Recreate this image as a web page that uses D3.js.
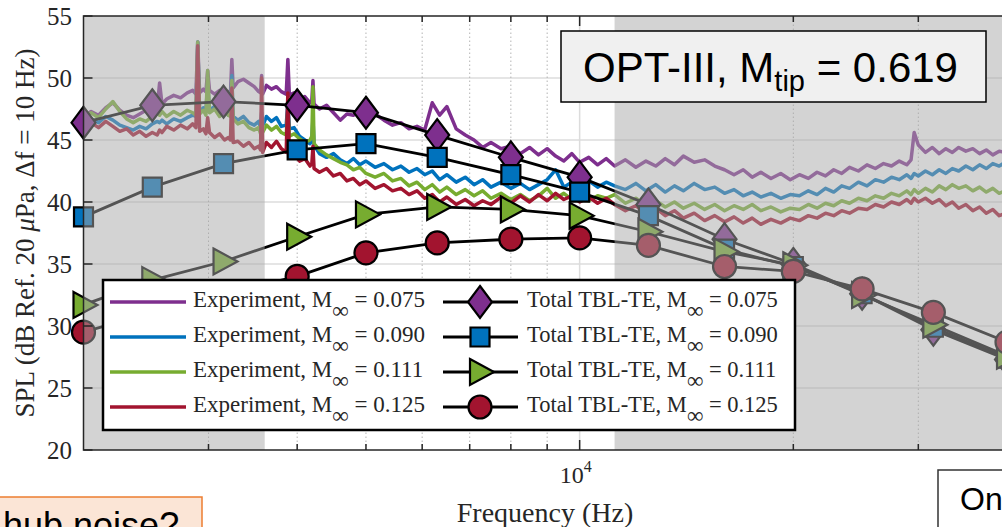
<!DOCTYPE html>
<html>
<head>
<meta charset="utf-8">
<title>OPT-III SPL</title>
<script src="https://cdn.jsdelivr.net/npm/d3@7"></script>
<style>
  body { margin: 0; background: #fff; }
  svg { display: block; }
</style>
</head>
<body>
<svg id="chart" width="1002" height="527"></svg>
<script>
// experiment spectra (Hz, dB)
const freqs = [2000,2050,2100,2150,2200,2250,2300,2350,2400,2450,
  2500,2540,2560,2580,2620,2680,2740,2800,2850,2880,
  2897,2915,2950,2975,2992,3010,3060,3110,3160,3200,
  3222,3236,3250,3300,3360,3420,3480,3530,3552,3564,
  3576,3620,3680,3740,3800,3860,3881,3900,3960,4030,
  4100,4170,4195,4210,4225,4300,4400,4500,4600,4700,
  4800,4900,5000,5150,5300,5450,5600,5750,5900,6050,
  6200,6350,6500,6700,6900,7100,7300,7500,7750,8000,
  8250,8500,8750,9000,9250,9500,9750,10000,10300,10600,
  10900,11200,11600,12000,12400,12800,13200,13600,14000,14500,
  15000,15500,16000,16500,17000,17500,18000,18600,19200,19800,
  20400,21000,21600,22200,22800,23400,24000,24700,25400,26100,
  26800,27500,28200,28900,29300,29600,30000,30700,31400,32100,
  32800,33500,34200,35000,35800,36600,37400,38200,39000,39800];

const expM075 = [46.8,47.3,47.0,47.6,48.0,47.4,47.0,46.8,47.1,47.4,
  47.8,47.6,49.6,47.9,48.3,48.6,48.4,48.8,49.0,48.7,
  52.9,48.8,49.1,48.9,50.6,49.0,48.7,49.0,48.6,48.9,
  48.8,51.5,49.2,49.7,49.9,49.6,49.3,48.9,48.8,50.2,
  48.7,49.4,49.1,49.3,48.9,48.7,51.5,48.6,48.8,48.3,
  48.5,48.0,48.2,49.8,47.9,47.5,47.8,47.2,46.6,47.1,
  47.0,47.3,47.6,47.1,46.6,46.2,46.4,45.9,46.1,45.8,
  48.0,47.0,47.7,45.9,45.4,45.0,44.4,44.8,44.3,44.5,
  43.9,44.4,43.8,44.3,43.7,43.3,43.9,43.2,43.6,43.0,
  43.5,42.9,43.4,42.8,43.3,42.9,43.5,43.0,43.7,43.2,
  43.4,42.9,42.6,42.2,42.6,42.0,42.4,41.9,42.3,41.8,
  42.2,41.9,42.4,42.1,42.6,42.3,42.8,42.5,43.0,42.7,
  43.1,42.9,43.3,43.0,43.4,45.6,44.6,44.0,44.4,43.9,
  44.3,44.0,44.4,44.1,44.3,43.9,44.2,43.8,44.1,44.0];

const expM090 = [46.3,46.7,46.4,46.9,46.6,46.2,46.0,45.8,46.1,45.9,
  46.3,46.5,46.4,46.6,46.3,46.7,46.5,46.8,47.0,46.9,
  52.9,47.2,47.6,47.3,49.6,47.4,47.7,47.2,47.5,47.0,
  47.2,50.2,46.9,46.6,46.9,46.4,46.2,46.5,46.0,47.2,
  46.1,46.9,46.5,46.8,46.1,46.2,48.0,45.9,46.0,45.3,
  45.0,44.7,45.0,46.8,44.6,43.9,43.6,43.9,43.4,43.1,
  43.5,43.0,43.3,42.8,43.1,42.6,42.9,42.4,42.7,42.2,
  42.5,41.8,42.2,41.6,42.0,41.4,41.8,41.2,41.6,41.1,
  41.5,41.0,41.4,41.8,42.6,41.2,41.6,41.3,41.7,41.2,
  41.6,41.3,41.0,41.5,40.9,41.4,40.8,41.3,40.9,41.5,
  41.0,41.2,40.7,41.0,40.5,40.8,40.4,40.7,40.3,40.6,
  40.5,40.9,40.6,41.1,40.8,41.3,41.1,41.6,41.3,41.8,
  41.6,42.0,41.8,42.2,41.9,42.3,42.1,42.5,42.2,42.6,
  42.3,42.7,42.5,42.9,42.6,43.0,42.7,43.1,42.9,43.2];

const expM111 = [46.9,47.2,46.8,47.5,48.1,47.3,46.7,46.4,46.7,46.5,
  46.9,47.2,47.0,47.3,46.9,47.3,47.0,47.4,47.2,47.0,
  52.9,47.1,47.4,47.0,50.6,47.2,47.5,46.9,47.3,47.0,
  46.9,49.8,46.7,46.3,46.5,46.0,45.8,46.0,45.5,46.6,
  45.6,46.2,45.8,46.1,45.6,45.4,47.5,45.3,45.5,45.1,
  44.8,45.0,45.3,49.3,44.7,44.2,43.8,43.5,43.2,43.0,
  42.6,42.8,42.3,42.0,42.3,41.7,41.9,41.3,41.6,41.0,
  41.4,40.8,41.2,40.6,41.0,40.5,40.9,40.3,40.7,40.2,
  40.6,40.1,40.5,41.1,40.3,40.7,40.2,40.6,40.1,40.5,
  40.3,40.6,39.9,40.3,39.7,40.1,39.6,40.0,39.5,39.9,
  39.4,39.8,39.3,39.7,39.4,39.8,39.3,39.6,39.2,39.5,
  39.4,39.8,39.5,39.9,39.7,40.1,39.9,40.3,40.1,40.5,
  40.3,40.7,40.5,40.9,40.6,41.0,40.7,41.1,40.8,41.3,
  41.0,41.4,41.1,41.3,40.9,41.2,40.8,41.1,40.7,40.9];

const expM125 = [46.0,46.4,46.0,46.5,46.1,45.7,45.9,45.4,45.7,45.3,
  45.6,45.4,45.8,45.6,46.1,45.8,46.2,45.9,46.3,46.0,
  52.6,45.7,45.9,45.5,46.8,45.6,45.2,45.5,45.0,45.2,
  45.0,49.2,44.8,44.9,44.5,44.8,44.3,44.5,44.2,50.0,
  44.0,44.8,44.4,44.9,44.3,44.0,48.8,43.7,43.9,43.3,
  43.5,42.9,43.1,44.5,42.7,42.4,42.7,42.1,42.3,41.7,
  41.9,41.4,41.7,41.1,41.4,40.9,41.1,40.6,40.9,40.3,
  40.6,40.0,40.4,39.8,40.2,39.7,40.1,39.8,40.4,39.9,
  40.5,40.0,40.6,40.1,40.7,40.2,40.5,40.0,40.4,39.9,
  40.3,39.8,39.3,39.7,39.1,39.5,38.9,39.3,38.7,39.1,
  38.5,38.9,38.4,38.8,38.3,38.7,38.2,38.6,38.3,38.7,
  38.5,38.9,38.7,39.1,38.9,39.3,39.1,39.5,39.4,39.8,
  39.6,40.0,39.8,40.2,39.9,40.3,40.0,40.3,39.9,40.2,
  39.7,40.0,39.5,39.8,39.3,39.6,39.1,39.4,38.9,39.1];

// TBL-TE model, 1/3-octave bands
const modelFreqs = [2000,2500,3150,4000,5000,6300,8000,10000,12500,16000,20000,25000,31500,40000];
const modM075 = [46.4,47.8,48.1,47.8,47.2,45.4,43.6,42.0,39.8,37.0,35.0,32.6,29.7,27.3];
const modM090 = [38.8,41.2,43.1,44.2,44.7,43.6,42.2,40.8,38.9,36.2,34.8,32.6,29.9,27.4];
const modM111 = [31.7,33.7,35.2,37.2,39.0,39.6,39.4,38.9,37.6,36.0,34.9,32.5,30.1,27.6];
const modM125 = [29.5,31.1,32.6,34.0,35.9,36.7,37.0,37.1,36.5,34.8,34.4,33.0,31.1,28.7];

const machs = ["0.075", "0.090", "0.111", "0.125"];
const yTicks = [20, 25, 30, 35, 40, 45, 50, 55];
const xMinor = [3000, 4000, 5000, 6000, 7000, 8000, 9000, 20000, 30000];
const xMajor = [10000];
const shadeBands = [[2000, 3600], [11200, 40000]];

const colors = ["#7E2F8E", "#0072BD", "#77AC30", "#A2142F"];
const markerTypes = ["diamond", "square", "triangle", "circle"];
const expSeries = [expM075, expM090, expM111, expM125];
const modSeries = [modM075, modM090, modM111, modM125];

const svg = d3.select("#chart");
const serif = "'Liberation Serif', 'Times New Roman', serif";
const sans = "'Liberation Sans', Arial, sans-serif";
const axisCol = "#262626";

const x = d3.scaleLog().domain([2000, 40000]).range([83.5, 1007]);
const y = d3.scaleLinear().domain([20, 55]).range([450, 16]);
const [x0, x1] = x.range();
const [yb, yt] = y.range();

// grid
svg.append("g").selectAll("line").data(yTicks.slice(1, -1)).join("line")
  .attr("x1", x0).attr("x2", x1)
  .attr("y1", d => y(d)).attr("y2", d => y(d))
  .attr("stroke", "#dcdcdc").attr("stroke-width", 1.5);
svg.append("g").selectAll("line").data(xMinor).join("line")
  .attr("x1", d => x(d)).attr("x2", d => x(d))
  .attr("y1", yb).attr("y2", yt)
  .attr("stroke", "#b4b4b4").attr("stroke-width", 1)
  .attr("stroke-dasharray", "1.5,2.5");
svg.append("g").selectAll("line").data(xMajor).join("line")
  .attr("x1", d => x(d)).attr("x2", d => x(d))
  .attr("y1", yb).attr("y2", yt)
  .attr("stroke", "#dcdcdc").attr("stroke-width", 1.5);

// experiment lines
const expLine = d3.line().x((d, i) => x(freqs[i])).y(d => y(d));
expSeries.forEach((s, k) => {
  svg.append("path").datum(s)
    .attr("d", expLine)
    .attr("fill", "none")
    .attr("stroke", colors[k])
    .attr("stroke-width", 3.5)
    .attr("stroke-linejoin", "round");
});

function markerPath(type) {
  if (type === "diamond") return "M0,-16L12,0L0,16L-12,0Z";
  if (type === "square") return "M-9.5,-9.5H9.5V9.5H-9.5Z";
  if (type === "triangle") return "M-10,-13L14,0L-10,13Z";
  return "M11.5,0A11.5,11.5 0 1,1 -11.5,0A11.5,11.5 0 1,1 11.5,0Z";
}

// model lines + markers
const modLine = d3.line().x((d, i) => x(modelFreqs[i])).y(d => y(d));
modSeries.forEach((s, k) => {
  const g = svg.append("g");
  g.append("path").datum(s)
    .attr("d", modLine)
    .attr("fill", "none")
    .attr("stroke", "#000")
    .attr("stroke-width", 2.8);
  g.selectAll("path.m").data(s).join("path")
    .attr("class", "m")
    .attr("d", markerPath(markerTypes[k]))
    .attr("transform", (d, i) => `translate(${x(modelFreqs[i])},${y(d)})`)
    .attr("fill", colors[k])
    .attr("stroke", "#000")
    .attr("stroke-width", 2.2);
});

// shaded (excluded) bands drawn over the data
svg.append("g").selectAll("rect").data(shadeBands).join("rect")
  .attr("x", d => x(d[0]))
  .attr("width", d => x(d[1]) - x(d[0]))
  .attr("y", yt).attr("height", yb - yt)
  .attr("fill", "#a8a8a8").attr("fill-opacity", 0.5);

// axes box and ticks
const ax = svg.append("g").attr("stroke", axisCol).attr("stroke-width", 1.5);
ax.append("rect").attr("x", x0).attr("y", yt).attr("width", x1 - x0).attr("height", yb - yt)
  .attr("fill", "none");
ax.selectAll("line.yt").data(yTicks).join("line").attr("class", "yt")
  .attr("x1", x0).attr("x2", x0 + 9)
  .attr("y1", d => y(d)).attr("y2", d => y(d));
[yb, yt].forEach(edge => {
  const dir = edge === yb ? -1 : 1;
  ax.append("g").selectAll("line").data(xMinor).join("line")
    .attr("x1", d => x(d)).attr("x2", d => x(d))
    .attr("y1", edge).attr("y2", edge + dir * 6);
  ax.append("g").selectAll("line").data(xMajor).join("line")
    .attr("x1", d => x(d)).attr("x2", d => x(d))
    .attr("y1", edge).attr("y2", edge + dir * 10);
});

// tick labels
svg.append("g").selectAll("text").data(yTicks).join("text")
  .attr("x", 72).attr("y", d => y(d)).attr("dy", "0.34em")
  .attr("text-anchor", "end")
  .attr("font-family", serif).attr("font-size", 25).attr("fill", axisCol)
  .text(d => d);
xMajor.forEach(f => {
  const t = svg.append("text")
    .attr("x", x(f) - 4).attr("y", 483)
    .attr("text-anchor", "middle")
    .attr("font-family", serif).attr("font-size", 24).attr("fill", axisCol);
  t.append("tspan").text("10");
  t.append("tspan").attr("dy", -11).attr("font-size", 16).text(Math.round(Math.log10(f)));
});

// axis titles
svg.append("text")
  .attr("x", 545).attr("y", 522).attr("text-anchor", "middle")
  .attr("font-family", serif).attr("font-size", 28).attr("fill", axisCol)
  .text("Frequency (Hz)");
const yl = svg.append("text")
  .attr("transform", "translate(34,233) rotate(-90)")
  .attr("text-anchor", "middle")
  .attr("font-family", serif).attr("font-size", 27).attr("fill", axisCol);
yl.append("tspan").text("SPL (dB Ref. 20 ");
yl.append("tspan").attr("font-style", "italic").text("\u03bc");
yl.append("tspan").text("Pa, \u0394f = 10 Hz)");

// legend
const lg = svg.append("g");
lg.append("rect").attr("x", 103).attr("y", 280).attr("width", 692).attr("height", 150)
  .attr("fill", "#fff").attr("stroke", "#000").attr("stroke-width", 2.5);
machs.forEach((m, k) => {
  const by = 307 + k * 35;
  lg.append("line").attr("x1", 110).attr("x2", 186).attr("y1", by - 5).attr("y2", by - 5)
    .attr("stroke", colors[k]).attr("stroke-width", 3.5);
  const t1 = lg.append("text").attr("x", 193).attr("y", by)
    .attr("font-family", serif).attr("font-size", 23).attr("fill", axisCol);
  t1.append("tspan").text("Experiment, M");
  t1.append("tspan").attr("dy", 11).attr("font-size", 23).text("\u221e");
  t1.append("tspan").attr("dy", -11).text(" = " + m);

  lg.append("line").attr("x1", 443).attr("x2", 518).attr("y1", by - 5).attr("y2", by - 5)
    .attr("stroke", "#000").attr("stroke-width", 2.8);
  lg.append("path").attr("d", markerPath(markerTypes[k]))
    .attr("transform", `translate(480,${by - 5})`)
    .attr("fill", colors[k]).attr("stroke", "#000").attr("stroke-width", 2.2);
  const t2 = lg.append("text").attr("x", 527).attr("y", by)
    .attr("font-family", serif).attr("font-size", 22.5).attr("fill", axisCol);
  t2.append("tspan").text("Total TBL-TE, M");
  t2.append("tspan").attr("dy", 11).attr("font-size", 23).text("\u221e");
  t2.append("tspan").attr("dy", -11).text(" = " + m);
});

// annotation boxes
svg.append("rect").attr("x", 561).attr("y", 31).attr("width", 425).attr("height", 71)
  .attr("fill", "#f0f0f0").attr("stroke", "#000").attr("stroke-width", 1.5);
const tt = svg.append("text").attr("x", 583).attr("y", 82)
  .attr("font-family", sans).attr("font-size", 42).attr("fill", "#000");
tt.append("tspan").text("OPT-III, M");
tt.append("tspan").attr("dy", 9).attr("font-size", 29).text("tip");
tt.append("tspan").attr("dy", -9).text(" = 0.619");

svg.append("rect").attr("x", -2).attr("y", 497).attr("width", 204).attr("height", 60)
  .attr("fill", "#fbe5d6").attr("stroke", "#ed7d31").attr("stroke-width", 1.5);
svg.append("text").attr("x", 3).attr("y", 538)
  .attr("font-family", sans).attr("font-size", 36).attr("fill", "#000")
  .text("hub noise?");

svg.append("rect").attr("x", 938).attr("y", 470).attr("width", 90).attr("height", 80)
  .attr("fill", "#fff").attr("stroke", "#333").attr("stroke-width", 1.5);
svg.append("text").attr("x", 960).attr("y", 510)
  .attr("font-family", sans).attr("font-size", 32).attr("fill", "#000")
  .text("On");
</script>
</body>
</html>
